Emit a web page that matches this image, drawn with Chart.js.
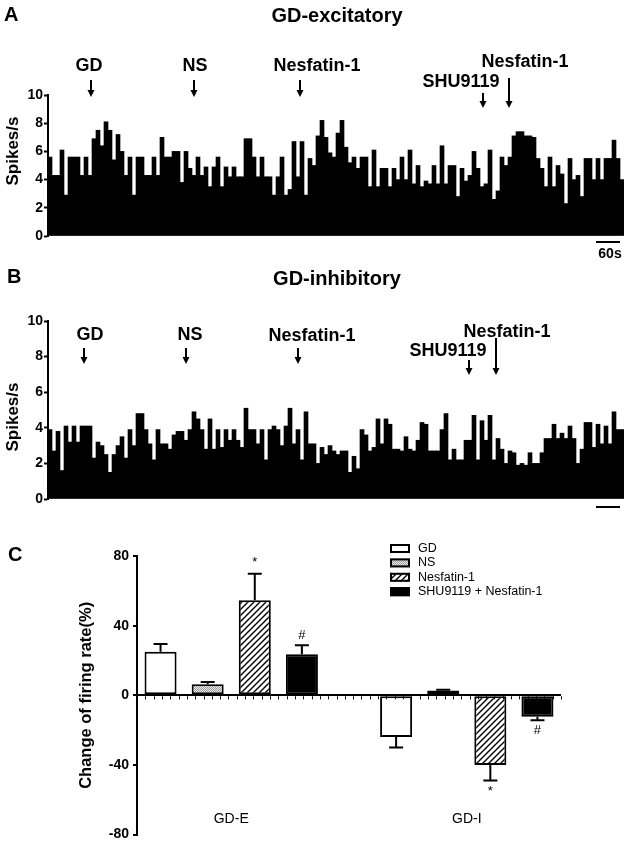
<!DOCTYPE html>
<html>
<head>
<meta charset="utf-8">
<script src="https://cdn.jsdelivr.net/npm/chart.js@4.4.0/dist/chart.umd.min.js"></script>
<style>
  html, body { margin: 0; padding: 0; background: #fff; }
  body { width: 630px; height: 847px; position: relative; overflow: hidden; }
  canvas { position: absolute; left: 0; }
</style>
</head>
<body>
<canvas id="traceA" width="630" height="262" style="top:0px"></canvas>
<canvas id="traceB" width="630" height="258" style="top:262px"></canvas>
<canvas id="barsC" width="630" height="327" style="top:520px"></canvas>
<script>
// ---- data ----
const BIN_S = 10; // seconds per histogram bin

// firing rate (spikes/s), GD-excitatory neuron
const spikesA = [
  5.6, 4.3, 4.3, 6.1, 2.9, 5.6, 5.6, 5.6, 4.3, 5.6,
  4.3, 6.9, 7.5, 6.4, 8.1, 7.5, 5.4, 7.2, 6.0, 4.3,
  5.6, 2.9, 5.6, 5.6, 4.3, 4.3, 5.6, 4.3, 7.0, 5.6,
  5.6, 6.0, 6.0, 3.8, 6.0, 4.8, 4.3, 5.6, 4.3, 4.9,
  3.5, 4.9, 5.6, 3.5, 4.9, 4.2, 4.9, 4.2, 4.2, 6.9,
  6.9, 5.6, 4.2, 5.6, 4.2, 4.2, 2.9, 4.2, 5.6, 2.9,
  3.3, 6.7, 4.2, 6.7, 2.9, 5.5, 5.0, 7.1, 8.2, 7.0,
  5.9, 5.6, 7.3, 8.2, 6.3, 5.2, 5.6, 4.8, 5.6, 5.6,
  3.5, 6.1, 3.5, 4.8, 4.8, 3.5, 4.8, 4.0, 5.6, 4.0,
  6.1, 3.7, 5.0, 3.5, 3.9, 3.7, 5.0, 3.7, 6.4, 3.7,
  5.0, 5.0, 2.8, 4.8, 3.9, 4.3, 6.0, 4.8, 3.5, 3.7,
  6.1, 2.6, 3.2, 5.6, 5.0, 5.6, 7.1, 7.4, 7.4, 7.1,
  7.1, 7.0, 5.5, 4.8, 3.5, 5.6, 3.5, 5.0, 4.4, 2.3,
  5.5, 4.0, 4.3, 2.8, 5.5, 5.5, 4.0, 5.5, 4.0, 5.5,
  5.5, 6.8, 5.5, 4.0
];

// firing rate (spikes/s), GD-inhibitory neuron
const spikesB = [
  3.9, 2.7, 3.8, 1.6, 4.1, 3.2, 4.1, 3.2, 4.1, 4.1,
  4.1, 2.3, 3.2, 3.0, 2.5, 1.5, 2.5, 3.0, 3.5, 2.3,
  3.9, 3.0, 4.8, 4.8, 3.9, 3.1, 2.2, 3.9, 3.1, 3.1,
  2.8, 3.6, 3.8, 3.8, 3.3, 3.9, 4.9, 4.5, 3.9, 2.8,
  4.5, 2.8, 3.9, 2.9, 3.9, 3.3, 3.9, 3.3, 2.9, 5.1,
  3.9, 3.9, 3.1, 3.9, 2.2, 3.9, 4.1, 3.9, 3.0, 4.1,
  5.1, 3.1, 3.9, 2.2, 4.9, 3.1, 3.1, 2.0, 2.9, 2.5,
  3.0, 2.7, 2.5, 2.7, 2.7, 1.5, 2.4, 1.7, 3.9, 3.6,
  2.7, 2.9, 4.5, 3.1, 4.5, 4.2, 2.8, 2.8, 2.7, 3.5,
  2.8, 2.7, 3.3, 4.3, 4.2, 2.7, 2.7, 2.7, 3.9, 4.8,
  2.2, 2.8, 2.2, 2.2, 3.3, 3.3, 4.7, 2.2, 4.4, 3.3,
  4.7, 2.2, 3.4, 2.8, 2.0, 2.7, 2.6, 1.9, 2.0, 1.9,
  2.6, 2.0, 2.0, 2.6, 3.4, 3.4, 4.2, 3.4, 3.7, 3.4,
  4.1, 3.4, 2.0, 2.8, 4.3, 4.3, 2.9, 4.2, 3.1, 4.1,
  3.1, 4.9, 3.9, 3.9
];

const traceTicks = [0, 2, 4, 6, 8, 10];
const eventNames = ['GD', 'NS', 'Nesfatin-1', 'SHU9119', 'Nesfatin-1'];
const eventTimesA = [107, 365, 630, 1087, 1152]; // s
const eventTimesB = [90, 345, 625, 1052, 1120];  // s
const scaleBarS = 60;

// panel C: change of firing rate (%), mean and SEM
const groups = ['GD-E', 'GD-I'];
const seriesNames = ['GD', 'NS', 'Nesfatin-1', 'SHU9119 + Nesfatin-1'];
const meanGD = [25.0, -24.0];
const meanNS = [6.4, 2.7];
const meanNesfatin = [54.6, -40.1];
const meanShuNes = [23.6, -12.3];
const semGD = [4.5, 6.0];
const semNS = [1.3, 0.5];
const semNesfatin = [15.2, 8.9];
const semShuNes = [5.1, 2.1];
const sigNesfatin = ['*', '*'];
const sigShuNes = ['#', '#'];
const changeTicks = [-80, -40, 0, 40, 80];

// ---- drawing ----
Chart.defaults.font.family = '"Liberation Sans", Arial, sans-serif';
Chart.defaults.color = '#000';
Chart.defaults.animation = false;

const BOLD = '"Liberation Sans", Arial, sans-serif';

function arrow(ctx, x, y0, y1) {
  ctx.beginPath();
  ctx.moveTo(x, y0);
  ctx.lineTo(x, y1 - 6);
  ctx.lineWidth = 2;
  ctx.strokeStyle = '#000';
  ctx.stroke();
  ctx.beginPath();
  ctx.moveTo(x - 3.5, y1 - 7);
  ctx.lineTo(x + 3.5, y1 - 7);
  ctx.lineTo(x, y1);
  ctx.closePath();
  ctx.fillStyle = '#000';
  ctx.fill();
}

function traceDeco(cfg) {
  return {
    id: 'traceDeco',
    afterDraw(chart) {
      const ctx = chart.ctx;
      const x = chart.scales.x;
      const total = cfg.values.length * BIN_S;
      const px = t => x.getPixelForDecimal(t / total);
      ctx.save();
      ctx.fillStyle = '#000';
      ctx.textBaseline = 'middle';

      ctx.font = 'bold 20px ' + BOLD;
      ctx.textAlign = 'left';
      ctx.fillText(cfg.letter, cfg.letterPos[0], cfg.letterPos[1]);
      ctx.textAlign = 'center';
      ctx.fillText(cfg.title, 337, cfg.titleY);

      // y title
      ctx.save();
      ctx.translate(13.5, cfg.yTitleY);
      ctx.rotate(-Math.PI / 2);
      ctx.font = 'bold 17px ' + BOLD;
      ctx.fillText('Spikes/s', 0, 0);
      ctx.restore();

      // drug application arrows
      ctx.font = 'bold 18px ' + BOLD;
      cfg.times.forEach((t, i) => {
        const L = cfg.layout[i];
        const xx = Math.round(px(t));
        ctx.fillText(eventNames[i], xx + L.dx, L.ty);
        arrow(ctx, xx, L.y0, L.y1);
      });

      // time scale bar
      const x0 = px(total - 10 - scaleBarS), x1 = px(total - 10);
      ctx.beginPath();
      ctx.moveTo(x0, cfg.barY);
      ctx.lineTo(x1, cfg.barY);
      ctx.lineWidth = 2;
      ctx.stroke();
      if (cfg.barText) {
        ctx.font = 'bold 14px ' + BOLD;
        ctx.fillText(cfg.barText, (x0 + x1) / 2 + 2, cfg.barY + 12);
      }
      ctx.restore();
    }
  };
}

function traceChart(id, values, cfg, pad) {
  const bins = values.map((_, i) => i * BIN_S);
  return new Chart(document.getElementById(id), {
    type: 'bar',
    data: {
      labels: bins,
      datasets: [{
        data: values,
        backgroundColor: '#000',
        borderWidth: 0,
        barPercentage: 1,
        categoryPercentage: 1
      }]
    },
    options: {
      responsive: false,
      layout: { padding: pad },
      plugins: { legend: { display: false }, tooltip: { enabled: false } },
      scales: {
        x: { display: false },
        y: {
          min: 0, max: 10,
          afterBuildTicks: s => { s.ticks = traceTicks.map(v => ({ value: v })); },
          afterFit: s => { s.width = 48; },
          border: { display: true, color: '#000', width: 2 },
          grid: { drawOnChartArea: false, tickLength: 4, tickWidth: 2, tickColor: '#000' },
          ticks: { padding: 1, color: '#000', font: { size: 14, weight: 'bold' } }
        }
      }
    },
    plugins: [traceDeco(Object.assign({ values }, cfg))]
  });
}

traceChart('traceA', spikesA, {
  letter: 'A', letterPos: [4, 15], title: 'GD-excitatory', titleY: 16, yTitleY: 151,
  times: eventTimesA,
  layout: [
    { dx: -2, ty: 66, y0: 80, y1: 97 },
    { dx: 1, ty: 66, y0: 80, y1: 97 },
    { dx: 17, ty: 66, y0: 80, y1: 97 },
    { dx: -22, ty: 82, y0: 93, y1: 108 },
    { dx: 16, ty: 62, y0: 78, y1: 108 }
  ],
  barY: 242, barText: '60s'
}, { left: 0, top: 95, right: 6, bottom: 26 });

traceChart('traceB', spikesB, {
  letter: 'B', letterPos: [7, 15], title: 'GD-inhibitory', titleY: 17, yTitleY: 155,
  times: eventTimesB,
  layout: [
    { dx: 6, ty: 73, y0: 86, y1: 102 },
    { dx: 4, ty: 73, y0: 86, y1: 102 },
    { dx: 14, ty: 74, y0: 86, y1: 102 },
    { dx: -21, ty: 89, y0: 98, y1: 113 },
    { dx: 11, ty: 70, y0: 76, y1: 113 }
  ],
  barY: 245, barText: ''
}, { left: 0, top: 59, right: 6, bottom: 21 });

// ---- panel C ----
const ctxC = document.getElementById('barsC').getContext('2d');

function dotPattern() {
  const c = document.createElement('canvas');
  c.width = c.height = 2;
  const g = c.getContext('2d');
  g.fillStyle = '#ececec'; g.fillRect(0, 0, 2, 2);
  g.fillStyle = '#9a9a9a'; g.fillRect(0, 0, 1, 1); g.fillRect(1, 1, 1, 1);
  return ctxC.createPattern(c, 'repeat');
}
function hatchPattern() {
  const c = document.createElement('canvas');
  c.width = c.height = 6;
  const g = c.getContext('2d');
  g.fillStyle = '#fff'; g.fillRect(0, 0, 6, 6);
  g.strokeStyle = '#000'; g.lineWidth = 1.4;
  g.beginPath();
  g.moveTo(0, 6); g.lineTo(6, 0);
  g.moveTo(-1, 1); g.lineTo(1, -1);
  g.moveTo(5, 7); g.lineTo(7, 5);
  g.stroke();
  return ctxC.createPattern(c, 'repeat');
}

const means = [meanGD, meanNS, meanNesfatin, meanShuNes];
const sems = [semGD, semNS, semNesfatin, semShuNes];
const sigs = [[], [], sigNesfatin, sigShuNes];
const fills = ['#fff', dotPattern(), hatchPattern(), '#000'];

// one slot per bar, with an empty slot between the two groups
const slotLabels = [];
groups.forEach((g, gi) => {
  if (gi > 0) slotLabels.push('');
  seriesNames.forEach(s => slotLabels.push(g + ' ' + s));
});
const slotOf = (gi, si) => gi * (seriesNames.length + 1) + si;

const datasetsC = seriesNames.map((name, si) => {
  const data = slotLabels.map(() => null);
  const sem = slotLabels.map(() => null);
  const sig = slotLabels.map(() => null);
  groups.forEach((g, gi) => {
    data[slotOf(gi, si)] = means[si][gi];
    sem[slotOf(gi, si)] = sems[si][gi];
    sig[slotOf(gi, si)] = sigs[si][gi] || null;
  });
  return {
    label: name, data, sem, sig,
    backgroundColor: fills[si],
    borderColor: '#000',
    borderWidth: 2,
    borderSkipped: false,
    grouped: false,
    barPercentage: 0.68,
    categoryPercentage: 1
  };
});

const barDeco = {
  id: 'barDeco',
  afterDatasetsDraw(chart) {
    const ctx = chart.ctx;
    const y = chart.scales.y;
    ctx.save();
    ctx.strokeStyle = '#000';
    ctx.fillStyle = '#000';
    ctx.lineWidth = 2;
    chart.data.datasets.forEach((ds, di) => {
      const meta = chart.getDatasetMeta(di);
      ds.data.forEach((v, i) => {
        if (v === null) return;
        const el = meta.data[i];
        const sign = v >= 0 ? 1 : -1;
        const yEnd = y.getPixelForValue(v + sign * ds.sem[i]);
        ctx.beginPath();
        ctx.moveTo(el.x, el.y);
        ctx.lineTo(el.x, yEnd);
        ctx.moveTo(el.x - 7, yEnd);
        ctx.lineTo(el.x + 7, yEnd);
        ctx.stroke();
        if (ds.sig[i]) {
          ctx.font = '13px ' + BOLD;
          ctx.textAlign = 'center';
          ctx.textBaseline = 'middle';
          ctx.fillText(ds.sig[i], el.x, yEnd - sign * (ds.sig[i] === '*' ? 11 : 10));
        }
      });
    });
    ctx.restore();
  },
  afterDraw(chart) {
    const ctx = chart.ctx;
    const { left, right, bottom } = chart.chartArea;
    const x = chart.scales.x, y = chart.scales.y;
    ctx.save();
    // minor ticks under the zero line
    const y0 = y.getPixelForValue(0);
    ctx.strokeStyle = '#000';
    ctx.lineWidth = 1;
    ctx.beginPath();
    for (let k = 1; k <= 51; k++) {
      const xx = Math.round(left + k * (right - left) / 51) + 0.5;
      ctx.moveTo(xx, y0 + 1);
      ctx.lineTo(xx, y0 + 4);
    }
    ctx.stroke();

    ctx.fillStyle = '#000';
    ctx.textBaseline = 'middle';
    ctx.font = 'bold 20px ' + BOLD;
    ctx.textAlign = 'left';
    ctx.fillText('C', 8, 35);

    // group labels
    ctx.font = '14px ' + BOLD;
    ctx.textAlign = 'center';
    groups.forEach((g, gi) => {
      const a = x.getPixelForValue(slotOf(gi, 0));
      const b = x.getPixelForValue(slotOf(gi, seriesNames.length - 1));
      ctx.fillText(g, (a + b) / 2, bottom - 15);
    });

    // legend
    ctx.font = '12.5px ' + BOLD;
    ctx.textAlign = 'left';
    chart.data.datasets.forEach((ds, di) => {
      const cy = 28.5 + di * 14.4;
      ctx.fillStyle = ds.backgroundColor;
      ctx.fillRect(390, cy - 4.5, 20, 9);
      ctx.lineWidth = 2;
      ctx.strokeStyle = '#000';
      ctx.strokeRect(391, cy - 3.5, 18, 7);
      ctx.fillStyle = '#000';
      ctx.fillText(ds.label, 418, cy);
    });
    ctx.restore();
  }
};

new Chart(ctxC, {
  type: 'bar',
  data: { labels: slotLabels, datasets: datasetsC },
  options: {
    responsive: false,
    layout: { padding: { left: 73, top: 36, right: 69, bottom: 10 } },
    plugins: { legend: { display: false }, tooltip: { enabled: false } },
    scales: {
      x: { display: false },
      y: {
        min: -80, max: 80,
        afterBuildTicks: s => { s.ticks = changeTicks.map(v => ({ value: v })); },
        afterFit: s => { s.width = 64; },
        border: { display: true, color: '#000', width: 2 },
        grid: {
          color: c => (c.tick && c.tick.value === 0 ? '#000' : 'rgba(0,0,0,0)'),
          lineWidth: 2,
          tickLength: 4, tickWidth: 2, tickColor: '#000'
        },
        ticks: { padding: 4, color: '#000', font: { size: 14, weight: 'bold' } },
        title: {
          display: true,
          text: 'Change of firing rate(%)',
          color: '#000',
          font: { size: 16.5, weight: 'bold' },
          padding: { top: 4, bottom: 4 }
        }
      }
    }
  },
  plugins: [barDeco]
});
</script>
</body>
</html>
